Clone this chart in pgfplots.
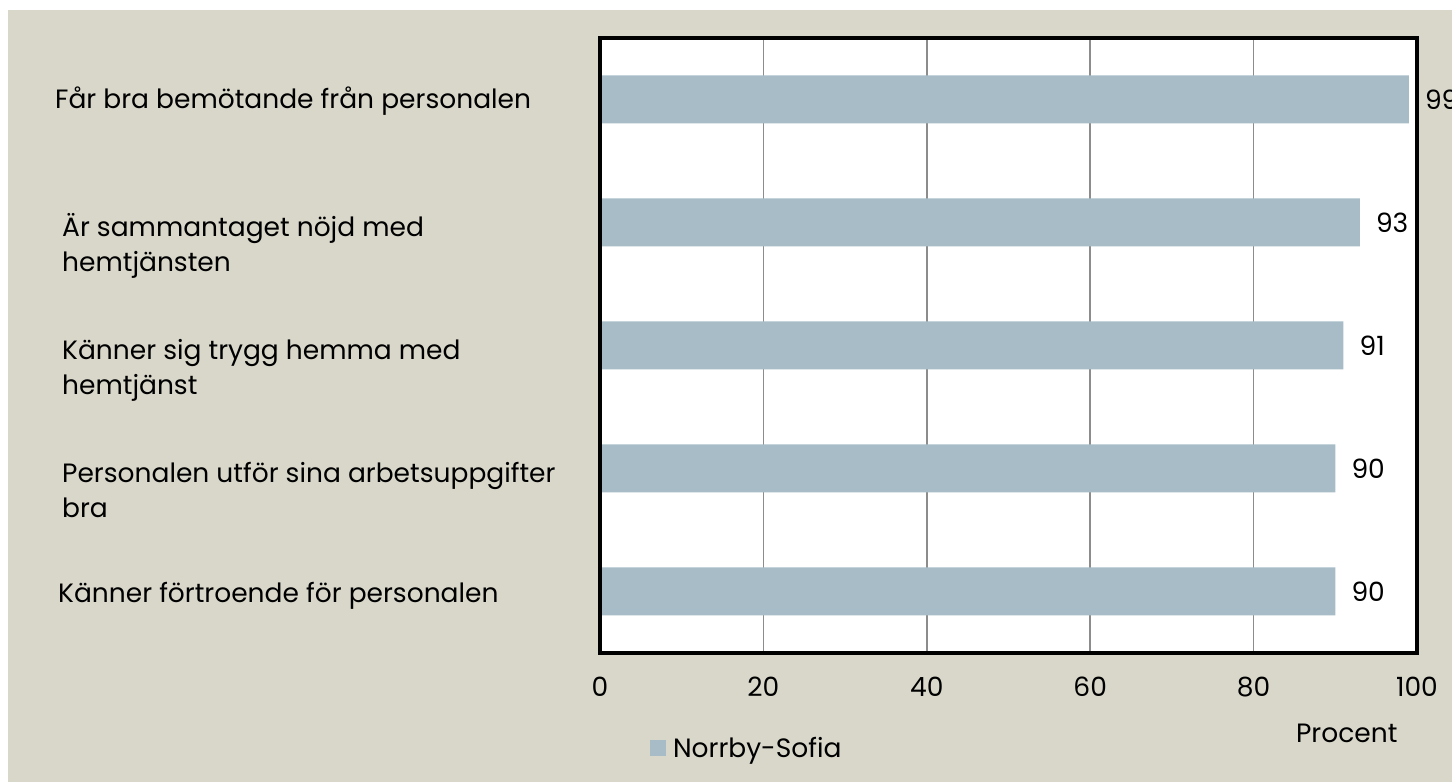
\documentclass[border=0pt]{standalone}
\usepackage{fontspec}
\setmainfont{Poppins}
\usepackage{pgfplots}
\pgfplotsset{compat=1.18}
\definecolor{bg}{HTML}{D9D7CA}
\definecolor{barc}{HTML}{A7BCC7}
\definecolor{gridc}{HTML}{8C8C8C}
\newcommand{\catfont}{\fontsize{26.5}{35}\selectfont}
\newcommand{\tickfont}{\fontsize{26.5}{30}\selectfont}
\begin{document}
\begin{tikzpicture}
\clip (0pt,0pt) rectangle (1452pt,782pt);
\fill[white] (0pt,0pt) rectangle (1452pt,782pt);
\fill[bg] (8pt,0pt) rectangle (1452pt,772pt);
\begin{axis}[
  at={(600pt,129pt)}, anchor=south west,
  scale only axis, width=817pt, height=615pt,
  xmin=0, xmax=100, ymin=-0.5, ymax=4.5,
  xbar, bar width=48pt, bar shift=0pt,
  axis background/.style={fill=white},
  axis line style={draw=none},
  xtick={0,20,40,60,80,100}, ytick=\empty,
  xmajorgrids, grid style={gridc, line width=1.5pt},
  major tick length=0pt,
  /pgf/number format/assume math mode=true,
  tick label style={font=\tickfont},
  xticklabel style={anchor=north, inner sep=0pt, yshift=-24pt},
  clip=false,
  nodes near coords,
  nodes near coords style={anchor=west, inner sep=0pt, xshift=16pt, font=\tickfont, text=black},
  xlabel={Procent},
  xlabel style={at={(axis description cs:0.914,-0.13)}, anchor=center, font=\tickfont},
  legend style={at={(axis description cs:0.061,-0.1545)}, anchor=west, draw=none, fill=none, font=\catfont, inner sep=0pt},
  legend image code/.code={\fill[barc] (0pt,-8pt) rectangle (16pt,8pt);},
]
\addplot[fill=barc, draw=none] coordinates {(90,0) (90,1) (91,2) (93,3) (99,4)};
\addlegendentry{\hspace{5pt}Norrby-Sofia}
\draw[line width=4pt, line join=miter] (rel axis cs:0,0) rectangle (rel axis cs:1,1);
\node[anchor=west, inner sep=0pt, font=\catfont] at (axis cs:0,4) [xshift=-545pt, yshift=-2pt] {Får bra bemötande från personalen};
\node[anchor=west, inner sep=0pt, font=\catfont, align=left] at (axis cs:0,3) [xshift=-538pt, yshift=-23pt] {Är sammantaget nöjd med\\hemtjänsten};
\node[anchor=west, inner sep=0pt, font=\catfont, align=left] at (axis cs:0,2) [xshift=-538pt, yshift=-25pt] {Känner sig trygg hemma med\\hemtjänst};
\node[anchor=west, inner sep=0pt, font=\catfont, align=left] at (axis cs:0,1) [xshift=-538pt, yshift=-21pt] {Personalen utför sina arbetsuppgifter\\bra};
\node[anchor=west, inner sep=0pt, font=\catfont] at (axis cs:0,0) [xshift=-542pt, yshift=-4pt] {Känner förtroende för personalen};
\end{axis}
\end{tikzpicture}
\end{document}
